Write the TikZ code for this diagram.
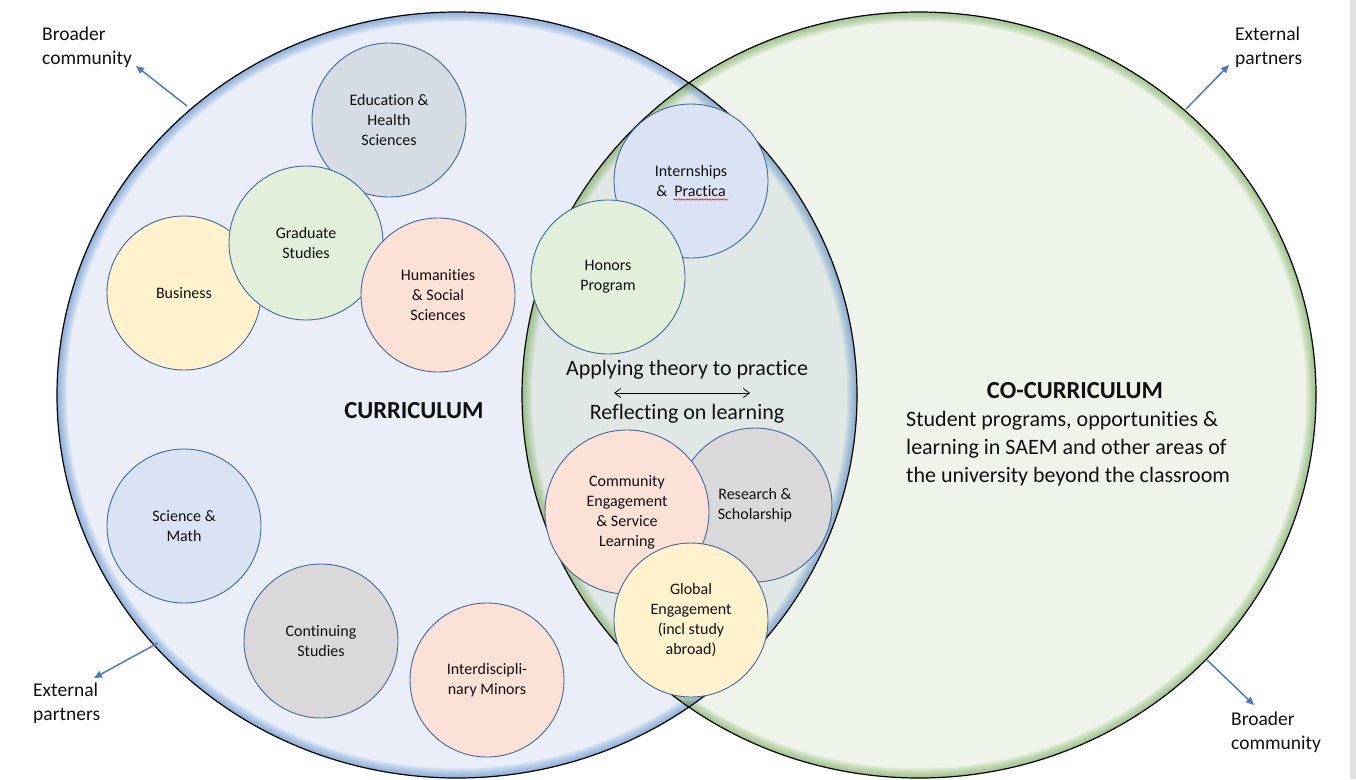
\documentclass[tikz,border=0pt]{standalone}
\usepackage{fontspec}
\setmainfont{Carlito}[Ligatures=NoCommon]
\usetikzlibrary{arrows.meta,decorations.pathmorphing}
\definecolor{leftfill}{HTML}{E9EEF8}
\definecolor{rightfill}{HTML}{EEF4EA}
\definecolor{lensfill}{HTML}{DFE8E4}
\definecolor{rimblue}{HTML}{3F7CC4}
\definecolor{rimgreen}{HTML}{5E9E38}
\definecolor{bubline}{HTML}{4467A0}
\definecolor{cgreyblue}{HTML}{D5DCE4}
\definecolor{cgreen}{HTML}{E2EFDA}
\definecolor{cyellow}{HTML}{FFF2CC}
\definecolor{cpeach}{HTML}{FBE1D6}
\definecolor{cblue}{HTML}{DAE3F3}
\definecolor{cgrey}{HTML}{D9D9D9}
\definecolor{arrowblue}{HTML}{4A7BC8}
\definecolor{framegrey}{HTML}{E2E2E2}
\definecolor{txt}{HTML}{111111}
\begin{document}
\begin{tikzpicture}[x=1pt,y=-1pt, every node/.style={text=txt},
  bub/.style={circle, draw=bubline, line width=0.9pt, minimum size=154pt, inner sep=0pt, align=center, font=\fontsize{16}{20}\selectfont},
  outlbl/.style={anchor=west, align=left, inner sep=0pt, font=\fontsize{19.5}{24}\selectfont},
  outarrow/.style={draw=arrowblue, line width=1.5pt, -{Triangle[length=8pt,width=7pt]}},
  bigtitle/.style={inner sep=0pt, font=\fontsize{24.5}{28}\selectfont\bfseries},
  bodytxt/.style={inner sep=0pt, font=\fontsize{22}{28}\selectfont}
]
\useasboundingbox (0,0) rectangle (1356,779);
\fill[white] (0,0) rectangle (1356,779);
\fill[framegrey] (1350,0) rectangle (1356,779);
% big ellipses
\def\Lell{(457,395) ellipse [x radius=400pt, y radius=383pt]}
\def\Rell{(919,395) ellipse [x radius=397pt, y radius=383pt]}
\fill[leftfill] \Lell;
\fill[rightfill] \Rell;
\begin{scope}
  \clip \Lell;
  \fill[lensfill] \Rell;
\end{scope}
\begin{scope}
  \clip \Lell;
  \foreach \i in {1,...,10}
    \draw[line width=2*\i pt, draw=rimblue, draw opacity=0.065] \Lell;
\end{scope}
\begin{scope}
  \clip \Rell;
  \foreach \i in {1,...,10}
    \draw[line width=2*\i pt, draw=rimgreen, draw opacity=0.065] \Rell;
\end{scope}
\draw[black, line width=1.2pt] \Lell;
\draw[black, line width=1.2pt] \Rell;
% bubbles
\node[bub, fill=cgreyblue] (edu) at (389,120) {Education \&\\Health\\Sciences};
\node[bub, fill=cyellow] (bus) at (184,293) {Business};
\node[bub, fill=cgreen] (grad) at (306,243) {Graduate\\Studies};
\node[bub, fill=cpeach] (hum) at (438,295) {Humanities\\\& Social\\Sciences};
\node[bub, fill=cblue] (sci) at (184,526) {Science \&\\Math};
\node[bub, fill=cgrey] (cont) at (321,641) {Continuing\\Studies};
\node[bub, fill=cpeach] (inter) at (487,680) {Interdiscipli-\\nary Minors};
\node[bub, fill=cblue] (intern) at (691,181) {Internships\\\&\ \ Practica};
\node[bub, fill=cgreen] (hon) at (608,277) {Honors\\Program};
\node[bub, fill=cgrey] (res) at (755,505) {Research \&\\Scholarship};
\node[bub, fill=cpeach, minimum size=164pt] (comm) at (627,512) {Community\\Engagement\\\& Service\\Learning};
\node[bub, fill=cyellow] (glob) at (691,620) {Global\\Engagement\\(incl study\\abroad)};
\draw[red, line width=0.5pt, decorate, decoration={snake, amplitude=0.7pt, segment length=2.6pt}] (673,199.5) -- (728,199.5);
% main texts
\node[bigtitle] (curr) at (414,411) {CURRICULUM};
\node[bigtitle] (cocurr) at (1075,391) {CO-CURRICULUM};
\node[bodytxt, anchor=west, align=left] (cobody) at (906,449) {Student programs, opportunities \&\\learning in SAEM and other areas of\\the university beyond the classroom};
\node[bodytxt] (apply) at (687,370) {Applying theory to practice};
\node[bodytxt] (reflect) at (687,414) {Reflecting on learning};
\coordinate (al) at (614,393);
\coordinate (ar) at (750,393);
\draw[black, line width=0.8pt, {Straight Barb[length=6pt,width=9pt]}-{Straight Barb[length=6pt,width=9pt]}] (al) -- (ar);
% outer labels
\node[outlbl] (tl) at (42,47) {Broader\\community};
\node[outlbl] (tr) at (1235,47) {External\\partners};
\node[outlbl] (bl) at (33,703) {External\\partners};
\node[outlbl] (br) at (1231,732) {Broader\\community};
\coordinate (tls) at (187,106);
\coordinate (tle) at (136,66);
\coordinate (trs) at (1186,109);
\coordinate (tre) at (1229,65);
\coordinate (bls) at (158,643);
\coordinate (ble) at (94,678);
\coordinate (brs) at (1207,660);
\coordinate (bre) at (1254,705);
\draw[outarrow] (tls) -- (tle);
\draw[outarrow] (trs) -- (tre);
\draw[outarrow] (bls) -- (ble);
\draw[outarrow] (brs) -- (bre);
\end{tikzpicture}
\end{document}
